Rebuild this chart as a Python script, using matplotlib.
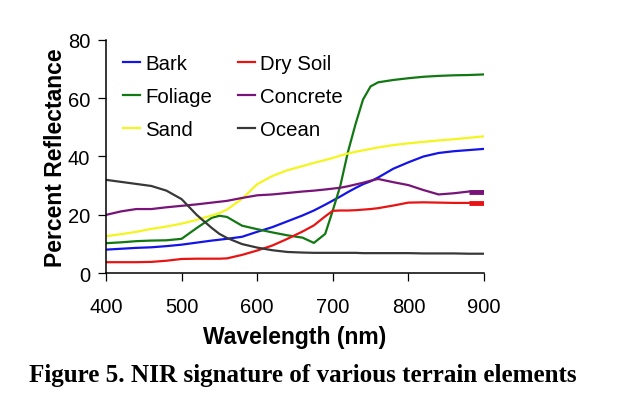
import matplotlib
matplotlib.use('Agg')
import matplotlib.pyplot as plt

# wavelength samples (nm) and reflectance (%)
wavelength = [400, 420, 440, 460, 480, 500, 520, 540, 550, 560, 580, 600, 620, 640, 660, 675,
              690, 700, 710, 720, 730, 740, 750, 760, 780, 800, 820, 840, 860, 880, 900]
bark = [8.1, 8.4, 8.7, 8.9, 9.3, 9.8, 10.5, 11.2, 11.5, 11.8, 12.5, 14.2, 15.8, 17.8, 19.8, 21.5,
        23.5, 24.9, 26.3, 27.8, 29.2, 30.5, 31.5, 32.8, 35.8, 38.0, 40.0, 41.2, 41.8, 42.2, 42.6]
dry_soil = [3.8, 3.8, 3.8, 3.9, 4.3, 4.9, 5.0, 5.0, 5.0, 5.1, 6.3, 7.8, 9.5, 11.8, 14.3, 16.4,
            19.5, 21.4, 21.5, 21.5, 21.6, 21.8, 22.0, 22.3, 23.2, 24.2, 24.3, 24.2, 24.1, 24.1, 24.1]
foliage = [10.3, 10.6, 11.0, 11.2, 11.3, 11.8, 15.5, 19.0, 19.7, 19.3, 16.3, 15.1, 14.0, 13.0, 12.2, 10.4,
           13.5, 21.5, 30.0, 41.5, 51.0, 59.5, 64.0, 65.4, 66.2, 66.8, 67.3, 67.6, 67.8, 67.9, 68.1]
concrete = [20.0, 21.2, 22.0, 22.0, 22.6, 23.1, 23.6, 24.2, 24.5, 24.8, 25.8, 26.7, 27.0, 27.5, 28.0, 28.3,
            28.7, 29.0, 29.3, 29.8, 30.4, 31.0, 31.7, 32.3, 31.2, 30.2, 28.5, 27.0, 27.4, 28.0, 28.0]
sand = [12.7, 13.4, 14.2, 15.2, 16.0, 17.0, 18.3, 19.8, 20.6, 21.8, 25.5, 30.5, 33.3, 35.3, 36.7, 37.8,
        38.8, 39.5, 40.3, 41.0, 41.6, 42.1, 42.6, 43.1, 43.9, 44.5, 45.0, 45.5, 45.9, 46.4, 46.9]
ocean = [32.0, 31.3, 30.6, 29.9, 28.3, 25.4, 20.0, 15.5, 13.5, 12.1, 10.0, 8.8, 7.9, 7.3, 7.1, 7.0,
         7.0, 7.0, 7.0, 7.0, 7.0, 6.9, 6.9, 6.9, 6.9, 6.9, 6.8, 6.8, 6.8, 6.7, 6.7]

x_ticks = [400, 500, 600, 700, 800, 900]
y_ticks = [0, 20, 40, 60, 80]

plt.rcParams['font.family'] = ['Liberation Sans', 'DejaVu Sans']

fig = plt.figure(figsize=(6.22, 4.02), dpi=100)
ax = fig.add_axes([0.1704, 0.3177, 0.6077, 0.5811])

lw = 1.6
ax.plot(wavelength, bark, color='#1414e6', lw=lw, label='Bark')
ax.plot(wavelength, foliage, color='#127812', lw=lw, label='Foliage')
ax.plot(wavelength, sand, color='#f5f51e', lw=lw, label='Sand')
ax.plot(wavelength, dry_soil, color='#e81414', lw=lw, label='Dry Soil')
ax.plot(wavelength, concrete, color='#781478', lw=lw, label='Concrete')
ax.plot(wavelength, ocean, color='#383838', lw=lw, label='Ocean')
# thicker stubs at the right end, as in the original
ax.plot(wavelength[-2:], dry_soil[-2:], color='#e81414', lw=3.5, solid_capstyle='butt')
ax.plot(wavelength[-2:], concrete[-2:], color='#781478', lw=3.5, solid_capstyle='butt')

ax.set_xlim(400, 900)
ax.set_ylim(0, 80)
ax.set_xticks(x_ticks)
ax.set_yticks(y_ticks)
ax.spines['top'].set_visible(False)
ax.spines['right'].set_visible(False)
for s in ['left', 'bottom']:
    ax.spines[s].set_linewidth(1.1)
ax.tick_params(axis='both', direction='out', length=5.8, width=0.9, labelsize=14.5)
ax.tick_params(axis='x', pad=11)
ax.tick_params(axis='y', pad=5.5)

ax.set_ylabel('Percent Reflectance', fontsize=16.5, fontweight='bold', labelpad=1)
fig.text(295 / 622, 1 - 344 / 402, 'Wavelength (nm)', fontsize=16.5, fontweight='bold',
         ha='center', va='baseline')
fig.text(303 / 622, 1 - 381.7 / 402, 'Figure 5. NIR signature of various terrain elements',
         family='Liberation Serif', fontsize=18.1, fontweight='bold', ha='center', va='baseline')

ax.legend(ncol=2, loc='upper left', bbox_to_anchor=(0.045, 0.937), frameon=False,
          fontsize=14.7, borderpad=0, borderaxespad=0, handlelength=0.83, handletextpad=0.25,
          columnspacing=1.27, labelspacing=0.67)

fig.savefig('out.png', dpi=100)
